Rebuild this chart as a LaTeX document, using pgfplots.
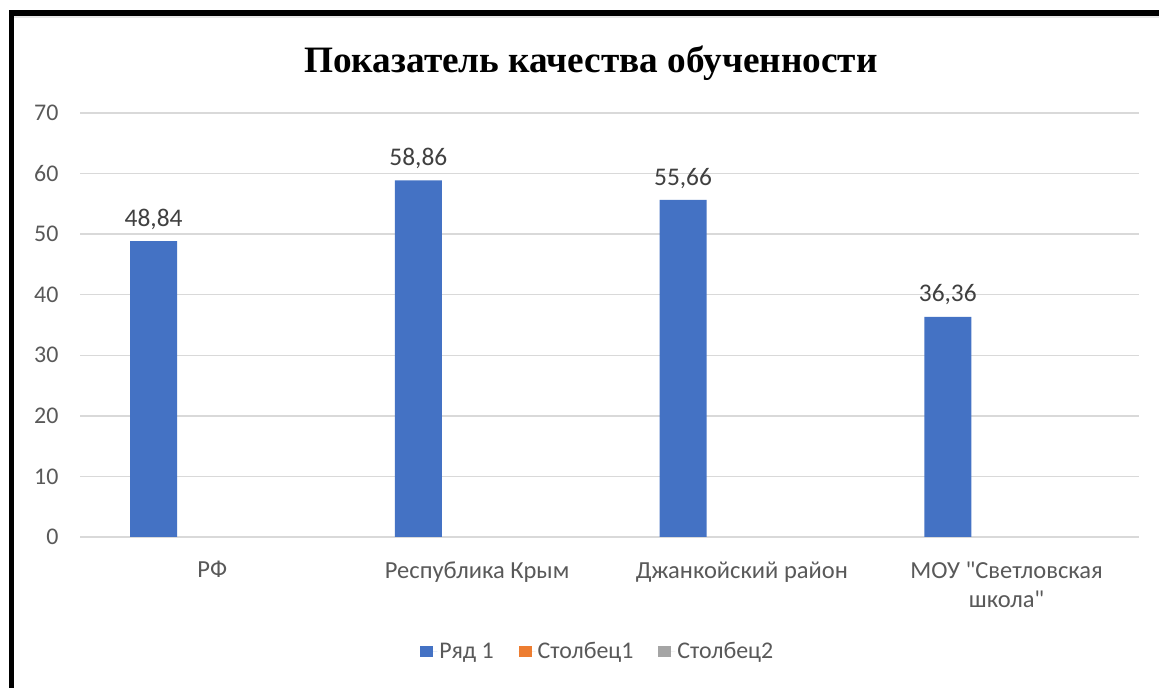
\documentclass[border=0pt]{standalone}
\usepackage{fontspec}
\setmainfont{Carlito}
\newfontfamily\calibri{Carlito}
\newfontfamily\titlefont{Liberation Serif}
\usepackage{pgfplots}
\pgfplotsset{compat=1.18}
\definecolor{bblue}{HTML}{4472C4}
\definecolor{borange}{HTML}{ED7D31}
\definecolor{bgray}{HTML}{A5A5A5}
\definecolor{gridgray}{HTML}{D9D9D9}
\definecolor{txtgray}{HTML}{595959}
\definecolor{lblgray}{HTML}{404040}
\begin{document}
\begin{tikzpicture}
\path[use as bounding box] (0bp,0bp) rectangle (1159bp,688bp);
\fill[white] (0bp,0bp) rectangle (1159bp,688bp);
\fill[gridgray!60] (14bp,670bp) rectangle (1159bp,672bp);
\fill[black] (9bp,0bp) rectangle (14bp,678bp);
\fill[black] (9bp,672bp) rectangle (1159bp,678bp);
\node[font=\titlefont\bfseries\fontsize{37.4}{42}\selectfont] at (591bp,625bp) {Показатель качества обученности};
\begin{axis}[
  at={(80bp,151bp)}, anchor=south west,
  scale only axis, width=1059bp, height=424bp,
  xmin=-0.5, xmax=3.5, ymin=0, ymax=70,
  ytick={0,10,...,70},
  xtick={0,1,2,3},
  xticklabels={РФ,Республика Крым,Джанкойский район,{МОУ {\calibri"}Светловская\\школа{\calibri"}}},
  axis line style={draw=none},
  major tick length=0pt,
  ymajorgrids,
  grid style={draw=gridgray, line width=1.5bp},
  /pgf/number format/assume math mode=true,
  tick label style={text=txtgray},
  yticklabel style={xshift=-18bp, font=\fontsize{24}{30}\selectfont},
  xticklabel style={align=center, yshift=-21bp, font=\fontsize{24.6}{30}\selectfont},
  ybar, bar width=47bp, bar shift=-58.8bp,
  nodes near coords,
  nodes near coords style={font=\fontsize{25.5}{28}\selectfont, text=lblgray, yshift=8bp,
    /pgf/number format/.cd, fixed, fixed zerofill, precision=2, use comma, assume math mode=true},
  legend style={at={(0.489,-0.269)}, anchor=center, draw=none, fill=none,
    legend columns=3, font=\fontsize{24}{28}\selectfont, text=txtgray,
    /tikz/every even column/.append style={column sep=23bp}},
  legend image code/.code={\fill[#1] (0bp,-5.5bp) rectangle (13bp,5.5bp); \path (0bp,0bp) -- (17bp,0bp);},
]
\addplot[fill=bblue, draw=none] coordinates {(0,48.84) (1,58.86) (2,55.66) (3,36.36)};
\addlegendentry{Ряд 1}
\addlegendimage{fill=borange, draw=none}
\addlegendentry{Столбец1}
\addlegendimage{fill=bgray, draw=none}
\addlegendentry{Столбец2}
\end{axis}
\end{tikzpicture}
\end{document}
